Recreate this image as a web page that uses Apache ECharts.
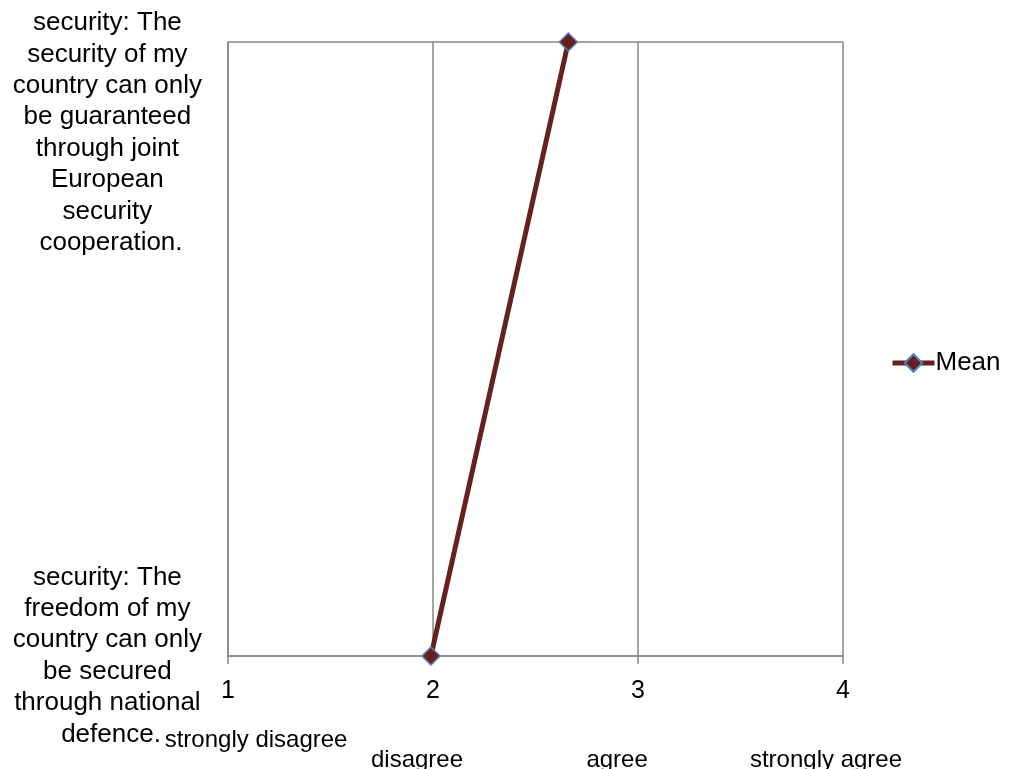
<!DOCTYPE html>
<html>
<head>
<meta charset="utf-8">
<script src="https://cdn.jsdelivr.net/npm/echarts@6/dist/echarts.min.js"></script>
<style>
html,body{margin:0;padding:0;background:#fff;}
#chart{width:1029px;height:769px;}
</style>
</head>
<body>
<div id="chart"></div>
<script>
// Categories (bottom to top)
var categories = [
  'security: The freedom of my country can only be secured through national defence.',
  'security: The security of my country can only be guaranteed through joint European security cooperation.'
];
var seriesName = 'Mean';
var meanValues = [1.99, 2.66];
var xTicks = ['1', '2', '3', '4'];
// Scale annotation texts below the axis and their x positions (data units)
var scaleLabels = ['strongly disagree', 'disagree', 'agree', 'strongly agree'];
var scaleLabelX = [1.137, 1.922, 2.898, 3.917];
var scaleLabelRow = [0, 1, 1, 1];

var FONT = 'Liberation Sans, Arial, sans-serif';
var chart = echarts.init(document.getElementById('chart'));

var labelBase = {
  fontFamily: FONT, fontSize: 26, color: '#000',
  align: 'center', width: 200, overflow: 'break', lineHeight: 31.4,
  margin: 117
};
var lastIdx = categories.length - 1;
// The top category label is pushed down inside the chart area (as in the original),
// so it sits at this fraction of the plot height on a helper label axis.
var topLabelPos = 0.852;

var option = {
  animation: false,
  backgroundColor: '#ffffff',
  grid: { left: 228, right: 186, top: 42, bottom: 113, containLabel: false, outerBoundsMode: 'none' },
  legend: {
    data: [seriesName],
    left: 885,
    top: 345,
    itemWidth: 42,
    itemHeight: 22,
    itemGap: 5,
    lineStyle: { width: 5 },
    textStyle: { fontFamily: FONT, fontSize: 26, color: '#000', padding: [0, 0, 0, -4] }
  },
  xAxis: {
    type: 'value',
    min: 1,
    max: 4,
    interval: 1,
    axisLine: { show: true, lineStyle: { color: '#868686', width: 1.5 } },
    axisTick: { show: true, length: 8, lineStyle: { color: '#868686', width: 1.5 } },
    axisLabel: {
      fontFamily: FONT, fontSize: 25, color: '#000', margin: 23,
      formatter: function (v) { var i = Math.round(v) - 1; return xTicks[i] !== undefined ? xTicks[i] : ''; }
    },
    splitLine: { show: true, lineStyle: { color: '#868686', width: 1.5 } }
  },
  yAxis: [{
    type: 'category',
    data: categories,
    boundaryGap: false,
    axisLine: { show: true, lineStyle: { color: '#868686', width: 1.5 } },
    axisTick: { show: false },
    splitLine: { show: true, lineStyle: { color: '#868686', width: 1.5 } },
    axisLabel: Object.assign({}, labelBase, {
      interval: 0,
      formatter: function (v, i) { return i === lastIdx ? '' : v; }
    })
  }, {
    type: 'value',
    min: 0,
    max: 1,
    position: 'left',
    axisLine: { show: false },
    axisTick: { show: false },
    splitLine: { show: false },
    axisLabel: Object.assign({}, labelBase, {
      customValues: [topLabelPos],
      showMinLabel: false,
      showMaxLabel: false,
      formatter: function () { return categories[lastIdx]; }
    })
  }],
  series: [{
    name: seriesName,
    type: 'line',
    yAxisIndex: 0,
    data: meanValues.map(function (v, i) { return [v, categories[i]]; }),
    symbol: 'diamond',
    symbolSize: 18,
    lineStyle: { color: '#66201F', width: 5 },
    itemStyle: { color: '#6A1E1E', borderColor: '#4F81BD', borderWidth: 1.5 }
  }]
};
chart.setOption(option);

// Place scale annotations using the axis scale
var axisY = chart.convertToPixel({ gridIndex: 0 }, [1, categories[0]])[1];
var rowOffsets = [84, 104];
var graphics = scaleLabels.map(function (t, i) {
  var px = chart.convertToPixel({ xAxisIndex: 0 }, scaleLabelX[i]);
  return {
    type: 'text',
    x: px,
    y: axisY + rowOffsets[scaleLabelRow[i]],
    style: { text: t, fontFamily: FONT, fontSize: 24, fill: '#000', align: 'center', verticalAlign: 'middle' }
  };
});
chart.setOption({ graphic: graphics });
</script>
</body>
</html>
